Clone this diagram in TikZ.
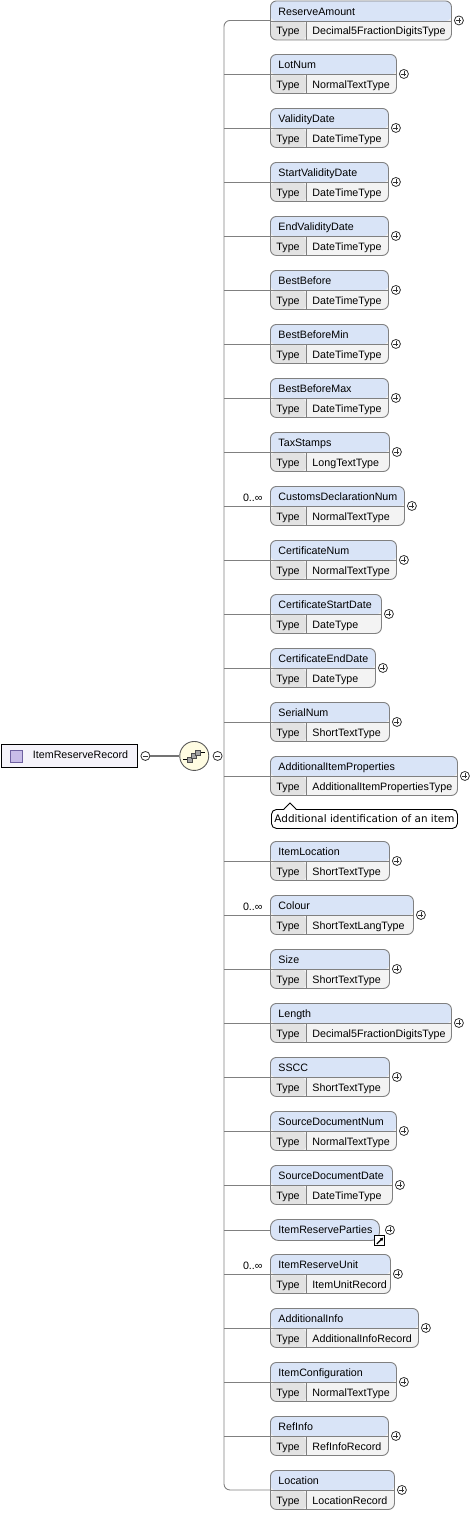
\documentclass[tikz,border=0pt]{standalone}
\usepackage{fontspec}
\setmainfont{Liberation Sans}
\newfontfamily\notefont{DejaVu Sans}
\usetikzlibrary{positioning,arrows.meta}

\definecolor{hdrblue}{RGB}{217,228,247}
\definecolor{typegray}{RGB}{226,226,226}
\definecolor{valgray}{RGB}{243,243,243}
\definecolor{boxline}{RGB}{128,128,128}
\definecolor{rootfill}{RGB}{245,243,250}
\definecolor{seqfill}{RGB}{255,252,226}
\definecolor{iconfill}{RGB}{200,188,232}
\definecolor{iconline}{RGB}{110,96,160}

\tikzset{
  elembox/.style={draw=boxline, fill=valgray, rounded corners=6pt, anchor=north west,
    minimum height=39pt, inner sep=0pt,
    path picture={
      \fill[hdrblue] (path picture bounding box.north west) rectangle ([yshift=-20pt]path picture bounding box.north east);
      \fill[typegray] ([yshift=-20pt]path picture bounding box.north west) rectangle ([xshift=36pt]path picture bounding box.south west);
      \draw[boxline] ([yshift=-20pt]path picture bounding box.north west) -- ([yshift=-20pt]path picture bounding box.north east);
      \draw[boxline] ([xshift=36pt,yshift=-20pt]path picture bounding box.north west) -- ([xshift=36pt]path picture bounding box.south west);
    }},
  refbox/.style={draw=boxline, fill=hdrblue, rounded corners=8pt, anchor=north west,
    minimum height=21pt, inner sep=0pt},
  rootbox/.style={draw=black, fill=rootfill, anchor=north west, minimum width=136pt,
    minimum height=23pt, inner sep=0pt},
  rooticon/.style={draw=iconline, fill=iconfill, minimum size=12pt, inner sep=0pt},
  notebox/.style={draw=black, fill=white, rounded corners=5pt, anchor=north west,
    minimum width=186pt, minimum height=19pt, inner sep=0pt,
    font=\notefont\fontsize{10.4}{12}\selectfont},
  hdrtext/.style={anchor=base west, inner sep=0pt, font=\fontsize{10.7}{12}\selectfont},
  occtext/.style={anchor=base east, inner sep=0pt, font=\fontsize{10.7}{12}\selectfont},
  branch/.style={draw=boxline},
  seqnode/.style={circle, draw=black!65, fill=seqfill, minimum size=29pt, inner sep=0pt},
  seqbox/.style={draw=black!70, fill=gray!70, minimum size=5pt, inner sep=0pt, line width=0.7pt},
  plusbtn/.style={circle, draw=black!80, fill=white, minimum size=9pt, inner sep=0pt,
    line width=0.8pt,
    path picture={
      \draw[line width=0.8pt] ([xshift=-2.5pt]path picture bounding box.center) -- ([xshift=2.5pt]path picture bounding box.center);
      \draw[line width=0.8pt] ([yshift=-2.5pt]path picture bounding box.center) -- ([yshift=2.5pt]path picture bounding box.center);
    }},
  minusbtn/.style={circle, draw=black!80, fill=white, minimum size=9pt, inner sep=0pt,
    line width=0.8pt,
    path picture={
      \draw[line width=0.8pt] ([xshift=-2.5pt]path picture bounding box.center) -- ([xshift=2.5pt]path picture bounding box.center);
    }},
  linkicon/.style={draw=black, fill=white, minimum size=10pt, inner sep=0pt,
    path picture={
      \draw[line width=1.3pt, -{Latex[length=3.5pt,width=4pt]}] ([xshift=-3pt,yshift=-3pt]path picture bounding box.center) -- ([xshift=3.5pt,yshift=3.5pt]path picture bounding box.center);
    }},
}

% child element: name, top, width, type
\newcommand\elem[4]{%
  \node[elembox, minimum width=#3pt] (#1) at (270,#2) {};
  \node[hdrtext] (#1-n) at ([xshift=8pt,yshift=-14.5pt]#1.north west) {#1};
  \node[hdrtext] (#1-t) at ([xshift=6pt,yshift=-34pt]#1.north west) {Type};
  \node[hdrtext] (#1-v) at ([xshift=42pt,yshift=-34pt]#1.north west) {#4};
  \node[plusbtn] (#1-p) at ([xshift=7pt]#1.east) {};
}

\begin{document}
\begin{tikzpicture}[x=1pt, y=-1pt, line width=0.9pt]
\useasboundingbox (0,0) rectangle (474,1516);

% root element
\node[rootbox] (root) at (0.5,744) {};
\node[rooticon] (root-i) at ([xshift=16pt]root.west) {};
\node[hdrtext] (root-n) at ([xshift=32pt,yshift=-14.5pt]root.north west) {ItemReserveRecord};
\node[minusbtn] (root-m) at ([xshift=8pt]root.east) {};

% sequence
\node[seqnode, right=29pt of root-m] (seq) {};
\node[minusbtn, right=3.5pt of seq] (seq-m) {};
\draw[line width=1.8pt, black!55] (root-m) -- (seq);
\node[seqbox] (seq-a) at ([xshift=-4pt,yshift=-3.5pt]seq.center) {};
\node[seqbox] (seq-b) at ([xshift=0pt,yshift=0pt]seq.center) {};
\node[seqbox] (seq-c) at ([xshift=4pt,yshift=3.5pt]seq.center) {};
\draw[line width=0.8pt] ([xshift=-4pt]seq-a.west) -- (seq-a.west);
\draw[line width=0.8pt] (seq-c.east) -- ([xshift=3.5pt]seq-c.east);
\coordinate (trunk) at (224,755);

% children
\elem{ReserveAmount}{0.5}{181}{Decimal5FractionDigitsType}
\elem{LotNum}{54}{126}{NormalTextType}
\elem{ValidityDate}{108}{118}{DateTimeType}
\elem{StartValidityDate}{162}{118}{DateTimeType}
\elem{EndValidityDate}{216}{118}{DateTimeType}
\elem{BestBefore}{270}{118}{DateTimeType}
\elem{BestBeforeMin}{324}{118}{DateTimeType}
\elem{BestBeforeMax}{378}{118}{DateTimeType}
\elem{TaxStamps}{432}{119}{LongTextType}
\elem{CustomsDeclarationNum}{486}{134}{NormalTextType}
\elem{CertificateNum}{540}{126}{NormalTextType}
\elem{CertificateStartDate}{594}{111}{DateType}
\elem{CertificateEndDate}{648}{105}{DateType}
\elem{SerialNum}{702}{119}{ShortTextType}
\elem{AdditionalItemProperties}{756}{187}{AdditionalItemPropertiesType}
\elem{ItemLocation}{841}{119}{ShortTextType}
\elem{Colour}{895}{143}{ShortTextLangType}
\elem{Size}{949}{119}{ShortTextType}
\elem{Length}{1003}{181}{Decimal5FractionDigitsType}
\elem{SSCC}{1057}{119}{ShortTextType}
\elem{SourceDocumentNum}{1111}{126}{NormalTextType}
\elem{SourceDocumentDate}{1165}{122}{DateTimeType}
\elem{ItemReserveUnit}{1254}{120}{ItemUnitRecord}
\elem{AdditionalInfo}{1308}{148}{AdditionalInfoRecord}
\elem{ItemConfiguration}{1362}{126}{NormalTextType}
\elem{RefInfo}{1416}{118}{RefInfoRecord}
\elem{Location}{1470}{124}{LocationRecord}

% reference to a global element
\node[refbox, minimum width=109pt] (ItemReserveParties) at (270,1219) {};
\node[hdrtext] (ItemReserveParties-n) at ([xshift=8pt,yshift=-14.5pt]ItemReserveParties.north west) {ItemReserveParties};
\node[plusbtn] (ItemReserveParties-p) at ([xshift=10pt]ItemReserveParties.east) {};
\node[linkicon] (ItemReserveParties-l) at (ItemReserveParties.south east) {};

% occurrences
\node[occtext] (CustomsDeclarationNum-o) at ([xshift=-7pt,yshift=-15pt]CustomsDeclarationNum.north west) {0..∞};
\node[occtext] (Colour-o) at ([xshift=-7pt,yshift=-15pt]Colour.north west) {0..∞};
\node[occtext] (ItemReserveUnit-o) at ([xshift=-7pt,yshift=-15pt]ItemReserveUnit.north west) {0..∞};

% annotation
\node[notebox] (AdditionalItemProperties-d) at (271,809) {Additional identification of an item};
\fill[white] ([xshift=13pt,yshift=-1pt]AdditionalItemProperties-d.north west) -- ([xshift=19pt,yshift=6pt]AdditionalItemProperties-d.north west) -- ([xshift=25pt,yshift=-1pt]AdditionalItemProperties-d.north west) -- cycle;
\draw ([xshift=13pt]AdditionalItemProperties-d.north west) -- ([xshift=19pt,yshift=6pt]AdditionalItemProperties-d.north west) -- ([xshift=25pt]AdditionalItemProperties-d.north west);

% connectors
\draw[branch, rounded corners=6pt] (ReserveAmount.west) -| (trunk) |- (Location.west);
\foreach \n in {LotNum,ValidityDate,StartValidityDate,EndValidityDate,BestBefore,BestBeforeMin,
  BestBeforeMax,TaxStamps,CustomsDeclarationNum,CertificateNum,CertificateStartDate,
  CertificateEndDate,SerialNum,AdditionalItemProperties,ItemLocation,Colour,Size,Length,SSCC,
  SourceDocumentNum,SourceDocumentDate,ItemReserveParties,ItemReserveUnit,AdditionalInfo,
  ItemConfiguration,RefInfo}
  \draw[branch] (\n.west) -- (\n.west -| trunk);
\end{tikzpicture}
\end{document}
